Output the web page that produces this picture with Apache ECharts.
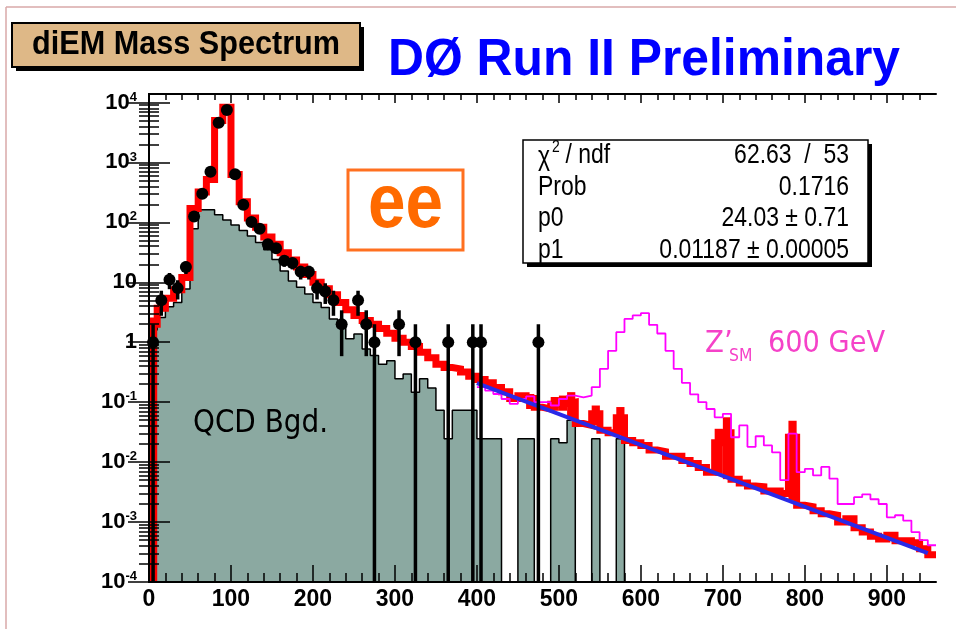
<!DOCTYPE html>
<html>
<head>
<meta charset="utf-8">
<script src="https://cdn.jsdelivr.net/npm/echarts@6/dist/echarts.min.js"></script>
<style>
  html, body { margin: 0; padding: 0; background: #ffffff; }
  #chart { width: 956px; height: 629px; }
</style>
</head>
<body>
<div id="chart"></div>
<script>
// ---- diEM invariant mass spectrum (ee channel), 10 GeV bins from 0 to 960 GeV ----
const BIN = 10;
const AXIS_MIN = 1e-4;
const AXIS_MAX = 13860;

// observed events per bin
const dataCounts = [
  1, 5, 11, 8, 18, 125, 300, 700, 4600, 7500,
  635, 197, 101, 78, 43, 37, 23, 21, 15, 15,
  8, 7, 5, 2, 0, 5, 2, 1, 0, 0,
  2, 0, 1, 0, 0, 0, 1, 0, 0, 1,
  1, 0, 0, 0, 0, 0, 0, 1, 0, 0,
  0, 0, 0, 0, 0, 0, 0, 0, 0, 0,
  0, 0, 0, 0, 0, 0, 0, 0, 0, 0,
  0, 0, 0, 0, 0, 0, 0, 0, 0, 0,
  0, 0, 0, 0, 0, 0, 0, 0, 0, 0,
  0, 0, 0, 0, 0, 0
];

// total expected background (Drell-Yan + QCD)
const bkgTotal = [
  2.0, 3.7, 5.4, 7.5, 12, 170, 320, 520, 5000, 8300,
  630, 220, 118, 83, 57, 43, 31, 23.5, 18, 13.5,
  10, 7.8, 6.2, 4.6, 3.5, 2.8, 2.3, 2.0, 1.7, 1.41,
  1.17, 1.0, 0.85, 0.68, 0.55, 0.43, 0.38, 0.36, 0.32, 0.27,
  0.24, 0.21, 0.175, 0.15, 0.115, 0.128, 0.115, 0.082, 0.077, 0.092,
  0.095, 0.1, 0.044, 0.041, 0.064, 0.034, 0.031, 0.055, 0.023, 0.021,
  0.019, 0.016, 0.015, 0.0125, 0.0125, 0.0106, 0.0095, 0.0081, 0.0068, 0.021,
  0.031, 0.0052, 0.0045, 0.004, 0.0039, 0.0033, 0.0033, 0.003, 0.026, 0.0019,
  0.0018, 0.00154, 0.00137, 0.0013, 0.001, 0.00114, 0.0008, 0.00068, 0.00058, 0.00052,
  0.0006, 0.00049, 0.00049, 0.00045, 0.00036, 0.000285
];

// background bins with a large uncertainty: [bin start, lower, upper]
const bkgErrBoxes = [
  [0, 1e-4, 2.6],
  [460, 0.077, 0.137],
  [490, 0.072, 0.122],
  [500, 0.072, 0.129],
  [510, 0.053, 0.147],
  [540, 0.041, 0.088],
  [570, 0.028, 0.083],
  [690, 0.006, 0.036],
  [700, 0.0052, 0.056],
  [780, 0.0023, 0.049]
];

// QCD (misidentified jets) background
const qcdBkg = [
  1.6, 2.6, 3.9, 4.6, 7.7, 78, 162, 162, 134, 110,
  90, 73, 59, 46, 35, 24, 15.5, 10.5, 8.3, 6.4,
  4.6, 3.8, 2.45, 1.78, 1.14, 1.37, 0.77, 0.6, 0.43, 0.49,
  0.245, 0.294, 0.147, 0.245, 0.172, 0.0735, 0.0245, 0.0735, 0.0735, 0.0735,
  0.0245, 0.0245, 0.0245, 0, 0, 0.0245, 0.0245, 0, 0, 0.0245,
  0.021, 0.05, 0, 0, 0.0245, 0, 0, 0.0245, 0, 0,
  0, 0, 0, 0, 0, 0, 0, 0, 0, 0,
  0, 0, 0, 0, 0, 0, 0, 0, 0, 0,
  0, 0, 0, 0, 0, 0, 0, 0, 0, 0,
  0, 0, 0, 0, 0, 0
];

// Z'(SM) 600 GeV signal + background, bins from 400 GeV
const zprimeStart = 400;
const zprimeSM = [
  0.178, 0.156, 0.137, 0.113, 0.094, 0.113, 0.125, 0.1, 0.1, 0.088,
  0.113, 0.129, 0.12, 0.129, 0.178, 0.36, 0.72, 1.47, 2.45, 2.8,
  3.05, 1.95, 1.4, 0.72, 0.36, 0.21, 0.135, 0.1, 0.077, 0.056,
  0.064, 0.026, 0.041, 0.018, 0.027, 0.019, 0.0145, 0.005, 0.03, 0.0068,
  0.0077, 0.006, 0.0083, 0.0053, 0.002, 0.002, 0.0026, 0.0029, 0.0024, 0.002,
  0.0012, 0.0013, 0.00106, 0.00068, 0.0005, 0.00041
];

// exponential fit p0 * exp(-p1 * m)
const fitP0 = 24.03;
const fitP1 = 0.01187;
const fitRange = [400, 950];

// axis ticks
const xTickLabels = [0, 100, 200, 300, 400, 500, 600, 700, 800, 900];
const xMinorTicks = [];
for (let m = 20; m < 960; m += 20) if (m % 100 !== 0) xMinorTicks.push(m);
const yTickValues = [1e-4, 1e-3, 1e-2, 1e-1, 1, 10, 100, 1000, 10000];
const yMinorTicks = [];
for (let n = -4; n <= 3; n++) for (let k = 2; k <= 9; k++) yMinorTicks.push(k * Math.pow(10, n));

// ---- helpers ----
function stepPoints(values, start) {
  const pts = [];
  values.forEach((v, i) => {
    const y = v > 0 ? v : AXIS_MIN;
    const x0 = start + i * BIN;
    pts.push([x0, y], [x0 + BIN, y]);
  });
  return pts;
}

const measureCtx = document.createElement('canvas').getContext('2d');
function textWidth(text, font) {
  measureCtx.font = font;
  return measureCtx.measureText(text).width;
}
function textEl(text, font, x, y, fill, align, scaleX) {
  return {
    type: 'text', x: x, y: y, scaleX: scaleX || 1, z: 100,
    style: {
      text: text, font: font, fill: fill,
      align: align || 'left', textAlign: align || 'left',
      verticalAlign: 'middle', textVerticalAlign: 'middle'
    }
  };
}
function fitText(text, font, x, y, width, fill, align) {
  return textEl(text, font, x, y, fill, align, width / textWidth(text, font));
}

const axisFont = "'Liberation Sans', Arial, sans-serif";
const statFont = "28px 'Liberation Sans', Arial, sans-serif";
const statScale = 0.82;
const noteFont = "'DejaVu Sans', Verdana, sans-serif";

const dataPoints = [];
dataCounts.forEach((n, i) => { if (n > 0) dataPoints.push([i * BIN + BIN / 2, n]); });

const fitLine = fitRange.map(m => [m, fitP0 * Math.exp(-fitP1 * m)]);

// ---- axes ----
function xAxisDef(position, tickValues, tickLen, withLine, withLabels) {
  return {
    type: 'value', position: position, min: 0, max: 960, z: 10,
    axisLine: { show: withLine, onZero: false, lineStyle: { color: '#000', width: 2 } },
    axisTick: { show: true, inside: true, length: tickLen, customValues: tickValues,
                lineStyle: { color: '#000', width: 1.5 } },
    axisLabel: withLabels ? {
      show: true, customValues: xTickLabels, color: '#000', fontSize: 23, fontWeight: 'bold',
      fontFamily: axisFont, margin: 6
    } : { show: false },
    splitLine: { show: false }, minorTick: { show: false }
  };
}
function yAxisDef(position, tickValues, tickLen, withLine, withLabels) {
  return {
    type: 'log', logBase: 10, position: position, min: AXIS_MIN, max: AXIS_MAX, z: 10,
    axisLine: { show: withLine, lineStyle: { color: '#000', width: 2 } },
    axisTick: { show: true, inside: true, length: tickLen, customValues: tickValues,
                lineStyle: { color: '#000', width: 1.5 } },
    axisLabel: withLabels ? {
      show: true, customValues: yTickValues, margin: 12, color: '#000',
      formatter: function (v) {
        const n = Math.round(Math.log10(v));
        if (n === 0) return '{m|1}';
        if (n === 1) return '{m|10}';
        return '{m|10}{s|' + n + '}';
      },
      rich: {
        m: { fontSize: 22, fontWeight: 'bold', fontFamily: axisFont, color: '#000', lineHeight: 24 },
        s: { fontSize: 13, fontWeight: 'bold', fontFamily: axisFont, color: '#000', verticalAlign: 'top', lineHeight: 13 }
      }
    } : { show: false },
    splitLine: { show: false }, minorTick: { show: false }
  };
}

// ---- decorations ----
const graphics = [
  { type: 'line', z: 100, shape: { x1: 6, y1: 7, x2: 956, y2: 7 }, style: { stroke: '#d9a9a9', lineWidth: 1.5 } },
  { type: 'line', z: 100, shape: { x1: 6, y1: 7, x2: 6, y2: 629 }, style: { stroke: '#d9a9a9', lineWidth: 1.5 } },
  // title plate
  { type: 'rect', z: 100, shape: { x: 16, y: 27, width: 348, height: 44 }, style: { fill: '#000' } },
  { type: 'rect', z: 100, shape: { x: 12, y: 23, width: 348, height: 44 }, style: { fill: '#deb887', stroke: '#000', lineWidth: 2 } },
  fitText('diEM Mass Spectrum', "bold 33px 'Liberation Sans', Arial, sans-serif", 32, 45, 308, '#000'),
  fitText('DØ Run II Preliminary', "bold 52px 'Liberation Sans', Arial, sans-serif", 388, 61, 512, '#0000ff'),
  // channel tag
  { type: 'rect', z: 100, shape: { x: 348, y: 170, width: 115, height: 80 }, style: { fill: 'rgba(0,0,0,0)', stroke: '#ff7020', lineWidth: 3 } },
  fitText('ee', "bold 76px 'Liberation Sans', Arial, sans-serif", 368, 206, 75, '#ff6a00'),
  // fit statistics box
  { type: 'rect', z: 100, shape: { x: 527, y: 144, width: 345, height: 123 }, style: { fill: '#000' } },
  { type: 'rect', z: 100, shape: { x: 523, y: 140, width: 345, height: 123 }, style: { fill: '#fff', stroke: '#000', lineWidth: 1.5 } },
  textEl('χ', statFont, 538, 157, '#000', 'left', statScale),
  textEl('2', "17px 'Liberation Sans', Arial, sans-serif", 552, 147, '#000', 'left', statScale),
  textEl(' / ndf', statFont, 559, 155, '#000', 'left', statScale),
  textEl('Prob', statFont, 538, 187.5, '#000', 'left', statScale),
  textEl('p0', statFont, 538, 218.5, '#000', 'left', statScale),
  textEl('p1', statFont, 538, 250, '#000', 'left', statScale),
  textEl('62.63  /  53', statFont, 849, 155, '#000', 'right', statScale),
  textEl('0.1716', statFont, 849, 187.5, '#000', 'right', statScale),
  textEl('24.03 ± 0.71', statFont, 849, 218.5, '#000', 'right', statScale),
  textEl('0.01187 ± 0.00005', statFont, 849, 250, '#000', 'right', statScale),
  // annotations
  fitText('QCD Bgd.', '32px ' + noteFont, 193, 424, 135, '#000'),
  textEl('Z’', '30px ' + noteFont, 705, 344, '#f542c8', 'left', 0.92),
  textEl('SM', '17px ' + noteFont, 729, 357, '#f542c8', 'left', 0.92),
  fitText('600 GeV', '30px ' + noteFont, 768, 344, 117, '#f542c8')
];

// ---- chart ----
const chart = echarts.init(document.getElementById('chart'), null, { renderer: 'canvas' });
chart.setOption({
  animation: false,
  backgroundColor: '#ffffff',
  grid: { left: 149, right: 20, top: 94, bottom: 47, containLabel: false },
  xAxis: [
    xAxisDef('bottom', xTickLabels, 17, true, true),
    xAxisDef('bottom', xMinorTicks, 9, false, false),
    xAxisDef('top', xTickLabels, 9, true, false),
    xAxisDef('top', xMinorTicks, 6, false, false)
  ],
  yAxis: [
    yAxisDef('left', yTickValues, 21, true, true),
    yAxisDef('left', yMinorTicks, 10, false, false),
    yAxisDef('right', yTickValues, 21, true, false),
    yAxisDef('right', yMinorTicks, 10, false, false)
  ],
  series: [
    {
      name: 'QCD', type: 'line', z: 1, data: stepPoints(qcdBkg, 0),
      symbol: 'none', lineStyle: { color: '#000', width: 1.5 },
      areaStyle: { color: '#8ba9a1', opacity: 1, origin: 'start' }
    },
    {
      name: 'Background', type: 'line', z: 2, data: stepPoints(bkgTotal, 0),
      symbol: 'none', lineStyle: { color: '#ff0000', width: 7, cap: 'butt', join: 'miter' }
    },
    {
      name: 'Background error', type: 'custom', z: 2, data: bkgErrBoxes,
      renderItem: function (params, api) {
        const x0 = api.value(0);
        const tl = api.coord([x0, api.value(2)]);
        const br = api.coord([x0 + BIN, api.value(1)]);
        return { type: 'rect', shape: { x: tl[0], y: tl[1], width: br[0] - tl[0], height: br[1] - tl[1] },
                 style: { fill: '#ff0000' } };
      }
    },
    {
      name: "Z' 600", type: 'line', z: 3, data: stepPoints(zprimeSM, zprimeStart),
      symbol: 'none', lineStyle: { color: '#ff00ff', width: 1.8 }
    },
    {
      name: 'Fit', type: 'line', z: 4, data: fitLine,
      symbol: 'none', lineStyle: { color: '#2a2ae8', width: 4 }
    },
    {
      name: 'Data', type: 'custom', z: 5, data: dataPoints,
      renderItem: function (params, api) {
        const m = api.value(0), n = api.value(1);
        const e = Math.sqrt(n);
        const lo = Math.max(n - e, AXIS_MIN), hi = n + e;
        const p = api.coord([m, n]);
        const pl = api.coord([m, lo]);
        const ph = api.coord([m, hi]);
        return {
          type: 'group', children: [
            { type: 'line', shape: { x1: p[0], y1: pl[1], x2: p[0], y2: ph[1] },
              style: { stroke: '#000', lineWidth: 3.5 } },
            { type: 'circle', shape: { cx: p[0], cy: p[1], r: 6 }, style: { fill: '#000' } }
          ]
        };
      }
    }
  ],
  graphic: graphics
});
</script>
</body>
</html>
